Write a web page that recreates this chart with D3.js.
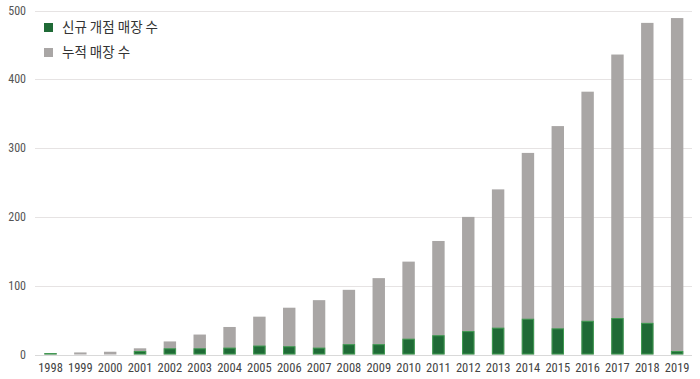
<!DOCTYPE html>
<html><head><meta charset="utf-8">
<script src="https://cdn.jsdelivr.net/npm/d3@7/dist/d3.min.js"></script>
<style>body{margin:0;background:#fff}</style>
</head><body><svg id="c" width="700" height="379"></svg>
<script>
const years = ["1998","1999","2000","2001","2002","2003","2004","2005","2006","2007","2008","2009","2010","2011","2012","2013","2014","2015","2016","2017","2018","2019"];
const newStores = [2,1,1,5,9,9,10,13,12,10,15,15,23,28,34,39,52,38,49,53,46,5];
const cumulative = [2,3,4,9,19,29,40,55,68,79,94,111,135,165,200,240,293,332,382,436,482,489];
const yTicks = [0,100,200,300,400,500];
const legendLabels = ["신규 개점 매장 수","누적 매장 수"];

const svg = d3.select("#c");
const m = {left:35, right:692, top:10.5, bottom:354.5};
const x = d3.scaleBand().domain(years).range([35.35,692.3]).paddingInner(0.584).paddingOuter(0.3);
const y = d3.scaleLinear().domain([0,500]).range([m.bottom,m.top]);
const font = "'Liberation Sans Narrow','Roboto Condensed','Noto Sans',sans-serif";

svg.append("g").selectAll("line").data(yTicks).join("line")
  .attr("x1",m.left).attr("x2",m.right)
  .attr("y1",d=>Math.round(y(d))+0.5).attr("y2",d=>Math.round(y(d))+0.5)
  .attr("stroke",d=>d===0?"#d9d9d9":"#e6e3e3").attr("stroke-width",1);

svg.append("g").selectAll("text").data(yTicks).join("text")
  .attr("x",26).attr("y",d=>y(d)+4).attr("text-anchor","end")
  .attr("font-family",font).attr("font-size",12).attr("fill","#555").text(d=>d);

svg.append("g").selectAll("rect").data(years).join("rect")
  .attr("x",d=>x(d)).attr("width",x.bandwidth())
  .attr("y",(d,i)=>y(cumulative[i])).attr("height",(d,i)=>y(0)-y(cumulative[i]))
  .attr("fill","#a9a6a5");

svg.append("g").selectAll("rect").data(years).join("rect")
  .attr("x",d=>x(d)+0.5).attr("width",x.bandwidth()-1)
  .attr("y",(d,i)=>y(newStores[i])+0.5).attr("height",(d,i)=>Math.max(0,y(0)-y(newStores[i])-1))
  .attr("fill","#1f6a36").attr("stroke","#3d9a4f").attr("stroke-width",1);

svg.append("g").selectAll("text").data(years).join("text")
  .attr("x",d=>x(d)+x.bandwidth()/2).attr("y",372).attr("text-anchor","middle")
  .attr("font-family",font).attr("font-size",12.5).attr("fill","#444").text(d=>d);

const lg = svg.append("g");
const lc = ["#1f6a36","#a9a6a5"];
legendLabels.forEach((t,i)=>{
  lg.append("rect").attr("x",44).attr("y",23+i*25).attr("width",9).attr("height",9).attr("fill",lc[i]);
  lg.append("text").attr("x",62).attr("y",32+i*25).attr("font-family","'Noto Sans CJK KR',sans-serif")
    .attr("font-size",13.5).attr("fill","#333").text(t);
});
</script></body></html>
